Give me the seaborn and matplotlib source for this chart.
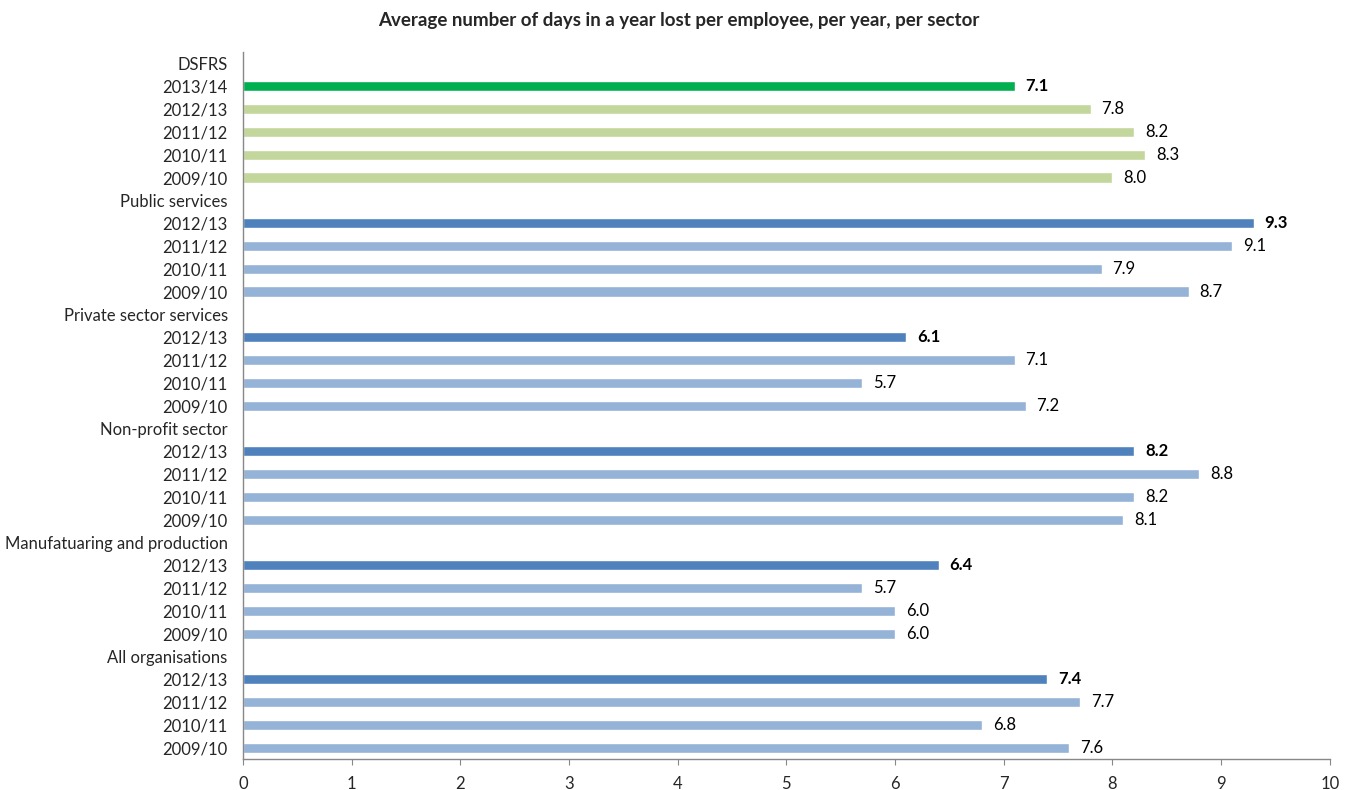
import numpy as np
import pandas as pd
import matplotlib
matplotlib.use("Agg")
import matplotlib.pyplot as plt
import seaborn as sns

# data
labels = ['DSFRS', '2013/14', '2012/13', '2011/12', '2010/11', '2009/10',
          'Public services', '2012/13', '2011/12', '2010/11', '2009/10',
          'Private sector services', '2012/13', '2011/12', '2010/11', '2009/10',
          'Non-profit sector', '2012/13', '2011/12', '2010/11', '2009/10',
          'Manufatuaring and production', '2012/13', '2011/12', '2010/11', '2009/10',
          'All organisations', '2012/13', '2011/12', '2010/11', '2009/10']
values = [np.nan, 7.1, 7.8, 8.2, 8.3, 8.0,
          np.nan, 9.3, 9.1, 7.9, 8.7,
          np.nan, 6.1, 7.1, 5.7, 7.2,
          np.nan, 8.2, 8.8, 8.2, 8.1,
          np.nan, 6.4, 5.7, 6.0, 6.0,
          np.nan, 7.4, 7.7, 6.8, 7.6]
highlight = [False, True, False, False, False, False,
             False, True, False, False, False,
             False, True, False, False, False,
             False, True, False, False, False,
             False, True, False, False, False,
             False, True, False, False, False]

sns.set_style("white")
plt.rcParams['font.family'] = ['Lato', 'DejaVu Sans']

rows = [f"r{i}" for i in range(len(labels))]
colors = []
for i, (v, h) in enumerate(zip(values, highlight)):
    if i < 6:
        colors.append('#00B050' if h else '#C3D69B')
    else:
        colors.append('#4F81BD' if h else '#95B3D7')

df = pd.DataFrame({'row': rows, 'value': values})

fig = plt.figure(figsize=(13.57, 7.90), dpi=100)
ax = fig.add_axes([0.179, 0.039, 0.801, 0.895])
sns.barplot(data=df, x='value', y='row', hue='row', palette=colors,
            order=rows, legend=False, width=0.45, ax=ax, saturation=1)

for i, (v, h) in enumerate(zip(values, highlight)):
    if not np.isnan(v):
        ax.text(v + 0.1, i, f"{v:.1f}", va='center', ha='left', fontsize=12,
                fontweight='bold' if h else 'normal', color='black')

ax.set_xlim(0, 10)
ax.set_ylim(len(rows) - 0.5, -0.5)
ax.set_xticks(range(0, 11))
ax.set_yticks(range(len(rows)))
ax.set_yticklabels(labels, fontsize=12)
ax.tick_params(axis='x', labelsize=12, length=4, color='#888888', direction='out', pad=8)
ax.tick_params(axis='y', length=0, pad=11)
ax.xaxis.set_ticks_position('bottom')
ax.set_xlabel('')
ax.set_ylabel('')
for s in ['top', 'right']:
    ax.spines[s].set_visible(False)
for s in ['left', 'bottom']:
    ax.spines[s].set_color('#888888')
    ax.spines[s].set_linewidth(1)

fig.suptitle('Average number of days in a year lost per employee, per year, per sector',
             x=0.5, y=0.985, fontsize=13.5, fontweight='bold')

fig.savefig('out.png', dpi=100)
